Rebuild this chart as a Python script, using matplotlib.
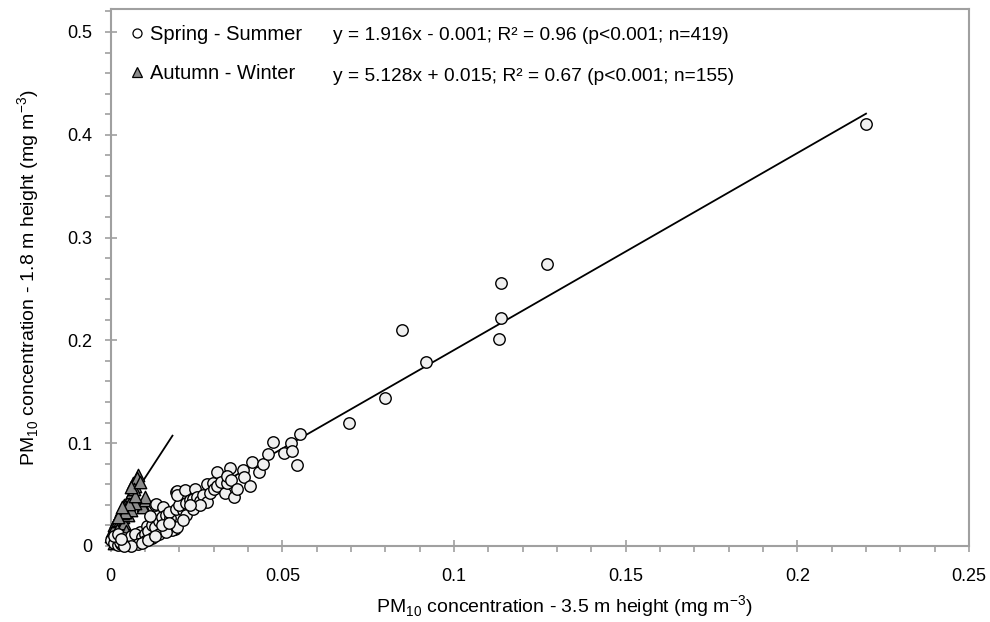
import matplotlib
matplotlib.use("Agg")
import matplotlib.pyplot as plt
from matplotlib.lines import Line2D
from matplotlib.ticker import MultipleLocator, FuncFormatter
import numpy as np

# Spring - Summer points (PM10 at 3.5 m vs 1.8 m, mg m-3)
spring_x = [
    0.000, 0.001, 0.002, 0.003, 0.004, 0.005, 0.006, 0.007, 0.008, 0.0027,
    0.0056, 0.0085, 0.0105, 0.001, 0.002, 0.004, 0.006, 0.007, 0.009, 0.010,
    0.011, 0.012, 0.013, 0.014, 0.0129, 0.0131, 0.0114, 0.0153, 0.015, 0.016,
    0.0173, 0.0187, 0.018, 0.0192, 0.017, 0.019, 0.021, 0.020, 0.022, 0.019,
    0.0194, 0.0192, 0.0216, 0.0231, 0.0246, 0.024, 0.025, 0.026, 0.027, 0.028,
    0.028, 0.0299, 0.029, 0.030, 0.031, 0.031, 0.032, 0.0333, 0.0338, 0.0348,
    0.034, 0.035, 0.036, 0.0367, 0.0386, 0.0389, 0.0406, 0.0413, 0.0433, 0.0443,
    0.0459, 0.0474, 0.0504, 0.0525, 0.0529, 0.0544, 0.0551, 0.0695, 0.0799, 0.0849,
    0.0918, 0.1131, 0.1136, 0.1136, 0.127, 0.220,
    0.012, 0.014, 0.016, 0.015, 0.017, 0.010, 0.008, 0.006, 0.022, 0.024,
    0.026, 0.023, 0.021, 0.004, 0.003, 0.009, 0.011, 0.013,
]
spring_y = [
    0.006, 0.003, 0.001, 0.002, 0.001, 0.003, 0.002, 0.004, 0.006, 0.004,
    0.0065, 0.014, 0.019, 0.010, 0.012, 0.008, 0.010, 0.012, 0.009, 0.012,
    0.015, 0.020, 0.018, 0.024, 0.040, 0.041, 0.0295, 0.0382, 0.028, 0.030,
    0.027, 0.017, 0.016, 0.018, 0.033, 0.036, 0.035, 0.040, 0.042, 0.053,
    0.0538, 0.0496, 0.0545, 0.0447, 0.0554, 0.046, 0.048, 0.044, 0.050, 0.043,
    0.060, 0.061, 0.052, 0.055, 0.0717, 0.058, 0.062, 0.0519, 0.061, 0.0756,
    0.068, 0.064, 0.048, 0.0552, 0.074, 0.0674, 0.0584, 0.082, 0.0717, 0.080,
    0.0895, 0.101, 0.0908, 0.1005, 0.0924, 0.079, 0.1086, 0.120, 0.144, 0.210,
    0.179, 0.201, 0.222, 0.256, 0.274, 0.410,
    0.008, 0.012, 0.014, 0.020, 0.022, 0.005, 0.002, 0.000, 0.030, 0.036,
    0.040, 0.040, 0.025, 0.000, 0.007, 0.003, 0.006, 0.010,
]

# Autumn - Winter points
autumn_x = [
    0.000, 0.0005, 0.001, 0.001, 0.0013, 0.0015, 0.002, 0.002, 0.0027, 0.0025,
    0.003, 0.003, 0.0037, 0.004, 0.004, 0.0047, 0.005, 0.005, 0.0056, 0.006,
    0.0061, 0.0066, 0.007, 0.0075, 0.008, 0.0078, 0.0093, 0.0095, 0.010, 0.010,
    0.006, 0.007, 0.003, 0.001, 0.0045, 0.0035, 0.0042, 0.0052, 0.0068, 0.0072,
    0.0018, 0.0022, 0.0032, 0.0058, 0.0085,
]
autumn_y = [
    0.010, 0.015, 0.008, 0.020, 0.019, 0.024, 0.012, 0.025, 0.025, 0.030,
    0.035, 0.018, 0.0285, 0.040, 0.022, 0.0367, 0.045, 0.030, 0.0447, 0.050,
    0.053, 0.061, 0.058, 0.063, 0.069, 0.066, 0.040, 0.038, 0.0447, 0.048,
    0.035, 0.042, 0.005, 0.003, 0.015, 0.032, 0.033, 0.041, 0.055, 0.049,
    0.016, 0.028, 0.038, 0.057, 0.062,
]

# regression lines: (slope, intercept, x range)
spring_fit = (1.916, -0.001, [0.0, 0.22])
autumn_fit = (5.128, 0.015, [0.0, 0.018])

spring_label = "Spring - Summer"
autumn_label = "Autumn - Winter"
spring_eq = "y = 1.916x - 0.001; R² = 0.96 (p<0.001; n=419)"
autumn_eq = "y = 5.128x + 0.015; R² = 0.67 (p<0.001; n=155)"

AXIS_GRAY = "#a0a0a0"
FONT = "Liberation Sans"
FS = 13


def style_axes(ax):
    for side in ["left", "right", "top", "bottom"]:
        ax.spines[side].set_color(AXIS_GRAY)
        ax.spines[side].set_linewidth(1.5)
    ax.set_xlim(0, 0.25)
    ax.set_ylim(0, 0.522)
    ax.xaxis.set_major_locator(MultipleLocator(0.05))
    ax.xaxis.set_minor_locator(MultipleLocator(0.01))
    ax.yaxis.set_major_locator(MultipleLocator(0.1))
    ax.yaxis.set_minor_locator(MultipleLocator(0.02))
    fmt = FuncFormatter(lambda v, _: f"{v:g}")
    ax.xaxis.set_major_formatter(fmt)
    ax.yaxis.set_major_formatter(fmt)
    ax.tick_params(which="major", direction="inout", length=8, width=1.2, color=AXIS_GRAY, labelsize=FS)
    ax.tick_params(which="minor", direction="out", length=4, width=1.2, color=AXIS_GRAY)
    ax.tick_params(axis="x", which="major", pad=12)
    ax.tick_params(axis="y", which="major", pad=9)


def main():
    plt.rcParams["font.family"] = [FONT, "DejaVu Sans"]
    plt.rcParams["mathtext.fontset"] = "custom"
    plt.rcParams["mathtext.rm"] = FONT

    fig = plt.figure(figsize=(9.9, 6.22), dpi=100)
    ax = fig.add_axes([0.1118, 0.1222, 0.8670, 0.8628])

    for slope, icpt, xr in [spring_fit, autumn_fit]:
        xs = np.array(xr)
        ax.plot(xs, slope * xs + icpt, color="black", lw=1.3, zorder=2)

    ax.scatter(autumn_x, autumn_y, marker="^", s=80, facecolor="#8c8c8c",
               edgecolor="black", linewidth=1.0, zorder=3, clip_on=False)
    ax.scatter(spring_x, spring_y, marker="o", s=68, facecolor="#f0f0f0",
               edgecolor="black", linewidth=1.0, zorder=3, clip_on=False)

    style_axes(ax)

    handles = [
        Line2D([], [], ls="none", marker="o", ms=6.5, mfc="white", mec="black", mew=0.9),
        Line2D([], [], ls="none", marker="^", ms=7, mfc="#8c8c8c", mec="black", mew=0.9),
    ]
    ax.legend(handles, [spring_label, autumn_label], loc="upper left",
              bbox_to_anchor=(0.0225, 0.971), frameon=False, fontsize=14.5,
              handlelength=0.7, handletextpad=0.3, labelspacing=1.0,
              borderpad=0, borderaxespad=0)
    ax.text(0.259, 0.952, spring_eq, transform=ax.transAxes, fontsize=13.8, va="center")
    ax.text(0.259, 0.874, autumn_eq, transform=ax.transAxes, fontsize=13.8, va="center")

    ax.set_xlabel(r"PM$_\mathregular{10}$ concentration - 3.5 m height (mg m$^\mathregular{-3}$)", fontsize=14)
    ax.set_ylabel(r"PM$_\mathregular{10}$ concentration - 1.8 m height (mg m$^\mathregular{-3}$)", fontsize=14)
    ax.xaxis.set_label_coords(0.529, -0.089)
    ax.yaxis.set_label_coords(-0.080, 0.5)

    fig.savefig("out.png", dpi=100)


if __name__ == "__main__":
    main()
